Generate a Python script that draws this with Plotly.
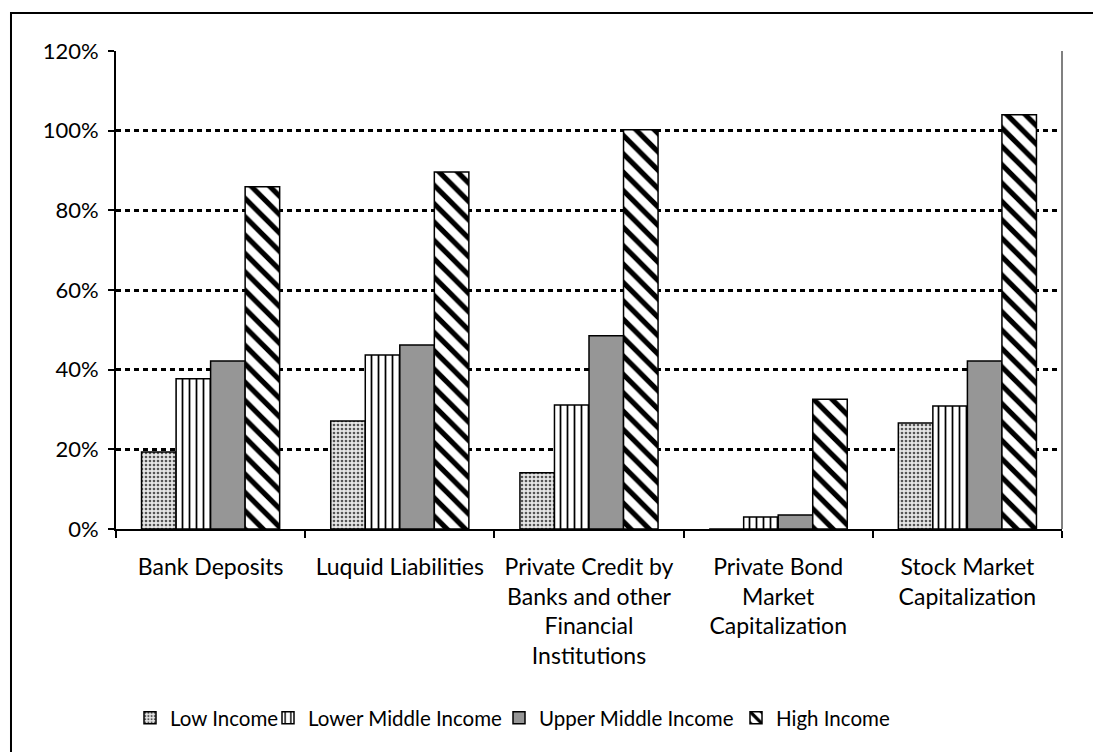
import plotly.graph_objects as go

categories = ["Bank Deposits", "Luquid Liabilities", "Private Credit by<br>Banks and other<br>Financial<br>Institutions",
              "Private Bond<br>Market<br>Capitalization", "Stock Market<br>Capitalization"]
series_names = ["Low Income", "Lower Middle Income", "Upper Middle Income", "High Income"]
low_income = [0.193, 0.271, 0.141, 0.0, 0.266]
lower_middle = [0.377, 0.437, 0.311, 0.030, 0.309]
upper_middle = [0.422, 0.462, 0.485, 0.035, 0.422]
high_income = [0.859, 0.896, 1.002, 0.326, 1.040]

FONT = "Lato, sans-serif"
W, H = 1093, 744   # page body has an 8px margin
ML, MR, MT, MB = 108, 39, 43, 223
PW = W - ML - MR

styles = [
    dict(pattern=dict(shape=".", fgcolor="#555555", bgcolor="#e6e6e6", size=4, solidity=0.35, fillmode="replace"), color="#e6e6e6"),
    dict(pattern=dict(shape="|", fgcolor="#000000", bgcolor="#ffffff", size=7, solidity=0.25, fillmode="replace"), color="#ffffff"),
    dict(pattern=None, color="#969696"),
    dict(pattern=dict(shape="\\", fgcolor="#000000", bgcolor="#ffffff", size=13, solidity=0.4, fillmode="replace"), color="#ffffff"),
]
legend_ids = ["legend", "legend2", "legend3", "legend4"]
legend_item_x = [122, 260, 491, 728]  # px from figure left

fig = go.Figure()
for name, vals, st, lid in zip(series_names, [low_income, lower_middle, upper_middle, high_income], styles, legend_ids):
    marker = dict(color=st["color"], line=dict(color="#000000", width=1.5))
    if st["pattern"] is not None:
        marker["pattern"] = st["pattern"]
    fig.add_trace(go.Bar(name=name, x=categories, y=vals, marker=marker, legend=lid))

leg_common = dict(orientation="h", xanchor="left", y=-0.395, yanchor="middle",
                  font=dict(size=20.5, family=FONT), bgcolor="rgba(0,0,0,0)", borderwidth=0)
legend_layout = {lid: dict(x=(px - ML) / PW, **leg_common) for lid, px in zip(legend_ids, legend_item_x)}

fig.update_layout(
    width=W, height=H,
    barmode="group", bargap=0.27, bargroupgap=0,
    plot_bgcolor="white", paper_bgcolor="white",
    margin=dict(l=ML, r=MR, t=MT, b=MB, autoexpand=False),
    font=dict(family=FONT, size=22, color="#000000"),
    showlegend=True,
    **legend_layout,
)
fig.update_yaxes(range=[0, 1.2], dtick=0.2, tickformat=".0%", showgrid=True,
                 gridcolor="#000000", gridwidth=2.5, griddash="5px,4px",
                 showline=True, linecolor="#000000", linewidth=2,
                 ticks="outside", ticklen=6, tickwidth=1.5, tickcolor="#000000",
                 ticklabelstandoff=5, zeroline=False, tickfont=dict(size=22))
fig.update_xaxes(showline=True, linecolor="#000000", linewidth=2,
                 ticks="outside", tickson="boundaries", ticklen=7, tickwidth=1.5, tickcolor="#000000",
                 ticklabelstandoff=16, showgrid=False, tickfont=dict(size=23))

# right plot border and outer chart frame
fig.add_shape(type="line", xref="paper", yref="paper", x0=1, x1=1, y0=0, y1=1,
              line=dict(color="#808080", width=2))
fig.add_shape(type="rect", xref="paper", yref="paper", x0=-0.111, x1=1.1, y0=-0.6, y1=1.0795,
              line=dict(color="#000000", width=2), layer="below")

fig.write_html("out.html")
